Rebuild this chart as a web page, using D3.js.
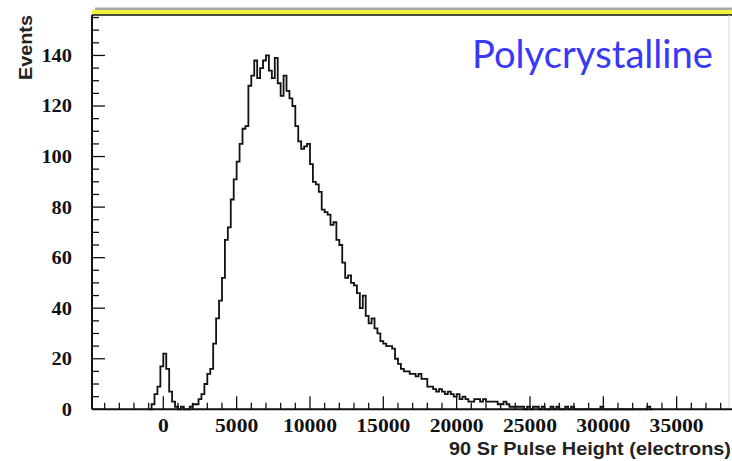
<!DOCTYPE html>
<html>
<head>
<meta charset="utf-8">
<script src="https://cdn.jsdelivr.net/npm/d3@7"></script>
<style>
  html, body { margin: 0; padding: 0; background: #fff; }
  svg { display: block; }
</style>
</head>
<body>
<svg id="chart" width="732" height="461"></svg>
<script>
// ---- data ----
const binLow = -1000;
const binWidth = 200;
const counts = [
  0, 2, 6, 9, 17, 22, 16, 7, 3, 1,            // -1000 .. 800
  0, 1, 0, 0, 1, 2, 2, 4, 6, 10,              // 1000 .. 2800
  14, 16, 26, 36, 43, 52, 67, 72, 83, 91,     // 3000 .. 4800
  98, 105, 111, 112, 128, 132, 138, 131, 135, 138, // 5000 .. 6800
  140, 134, 131, 139, 129, 124, 132, 126, 123, 120, // 7000 .. 8800
  112, 106, 103, 104, 105, 97, 90, 89, 86, 79,  // 9000 .. 10800
  78, 77, 73, 74, 67, 65, 58, 52, 53, 50,       // 11000 .. 12800
  49, 46, 40, 45, 37, 34, 36, 32, 30, 27,       // 13000 .. 14800
  26, 25, 25, 24, 20, 18, 16, 15, 15, 14,       // 15000 .. 16800
  14, 13, 14, 12, 12, 9, 9, 8, 7, 8,            // 17000 .. 18800
  7, 6, 7, 6, 5, 6, 4, 5, 4, 3,                 // 19000 .. 20800
  3, 4, 4, 3, 4, 3, 3, 3, 3, 2,                 // 21000 .. 22800
  2, 3, 2, 1, 1, 1, 1, 1, 0, 1,                 // 23000 .. 24800
  0, 1, 1, 0, 1, 0, 0, 1, 0, 1,                 // 25000 .. 26800
  0, 0, 1, 0, 1, 0, 0, 0, 0, 0,                 // 27000 .. 28800
  0, 0, 0, 0, 1, 0, 0, 0, 0, 0,                 // 29000 .. 30800
  0, 0, 0, 0, 0, 0, 0, 0, 0, 0,                 // 31000 .. 32800
  1, 0                                          // 33000 .. 33200
];
const xMajorTicks = [0, 5000, 10000, 15000, 20000, 25000, 30000, 35000];
const yMajorTicks = [0, 20, 40, 60, 80, 100, 120, 140];
const xDomain = [-4862, 38570];
const yDomain = [0, 156];
const titleText = "Polycrystalline";
const xTitle = "90 Sr Pulse Height (electrons)";
const yTitle = "Events";

// ---- layout ----
const L = 92, R = 729, T = 15, B = 409.3;
const svg = d3.select("#chart");
const x = d3.scaleLinear().domain(xDomain).range([L, R]);
const y = d3.scaleLinear().domain(yDomain).range([B, T]);

// top decorative bar
svg.append("rect").attr("x", 95).attr("y", 7.5).attr("width", 640).attr("height", 2.5).attr("fill", "#a8a8a8");
svg.append("rect").attr("x", L).attr("y", 10).attr("width", 640).attr("height", 4.5).attr("fill", "#f2f23c");
svg.append("line").attr("x1", L).attr("x2", 732).attr("y1", T).attr("y2", T)
  .attr("stroke", "#111").attr("stroke-width", 1.6);
// right frame edge
svg.append("line").attr("x1", R).attr("x2", R).attr("y1", T).attr("y2", B)
  .attr("stroke", "#d8d8d8").attr("stroke-width", 1);

// histogram
const pts = counts.map((c, i) => [binLow + i * binWidth, c]);
pts.push([binLow + counts.length * binWidth, counts[counts.length - 1]]);
const line = d3.line().x(d => x(d[0])).y(d => y(d[1])).curve(d3.curveStepAfter);
svg.append("path").attr("d", line(pts)).attr("fill", "none")
  .attr("stroke", "#111").attr("stroke-width", 1.8);

// axes
const g = svg.append("g");
g.append("line").attr("x1", L).attr("x2", 732).attr("y1", B).attr("y2", B)
  .attr("stroke", "#111").attr("stroke-width", 2);
g.append("line").attr("x1", L).attr("x2", L).attr("y1", T).attr("y2", B)
  .attr("stroke", "#111").attr("stroke-width", 2);

// x ticks
const xMinor = d3.range(-4000, 38600, 1000).filter(v => v % 5000 !== 0);
xMinor.forEach(v => {
  g.append("line").attr("x1", x(v)).attr("x2", x(v)).attr("y1", B).attr("y2", B - 6.5)
    .attr("stroke", "#111").attr("stroke-width", 1.3);
});
xMajorTicks.forEach(v => {
  g.append("line").attr("x1", x(v)).attr("x2", x(v)).attr("y1", B).attr("y2", B - 13)
    .attr("stroke", "#111").attr("stroke-width", 1.3);
  const s = String(v);
  g.append("text").attr("x", x(v)).attr("y", 432).attr("text-anchor", "middle")
    .attr("font-family", "'Liberation Serif', 'DejaVu Serif', serif").attr("font-weight", "bold")
    .attr("font-size", 19).attr("fill", "#111")
    .attr("textLength", s.length * 10.8).attr("lengthAdjust", "spacingAndGlyphs")
    .text(s);
});

// y ticks
const yMinor = d3.range(5, 156, 5).filter(v => v % 20 !== 0);
yMinor.forEach(v => {
  g.append("line").attr("x1", L).attr("x2", L + 7).attr("y1", y(v)).attr("y2", y(v))
    .attr("stroke", "#111").attr("stroke-width", 1.3);
});
yMajorTicks.forEach(v => {
  g.append("line").attr("x1", L).attr("x2", L + 13).attr("y1", y(v)).attr("y2", y(v))
    .attr("stroke", "#111").attr("stroke-width", 1.3);
  const s = String(v);
  g.append("text").attr("x", 72).attr("y", y(v) + 6.5).attr("text-anchor", "end")
    .attr("font-family", "'Liberation Serif', 'DejaVu Serif', serif").attr("font-weight", "bold")
    .attr("font-size", 19).attr("fill", "#111")
    .attr("textLength", s.length * 10.2).attr("lengthAdjust", "spacingAndGlyphs")
    .text(s);
});

// axis titles
svg.append("text").attr("x", 731).attr("y", 455).attr("text-anchor", "end")
  .attr("font-family", "'Liberation Sans', Arial, sans-serif").attr("font-weight", "bold")
  .attr("font-size", 17.5).attr("fill", "#222")
  .attr("textLength", 282).attr("lengthAdjust", "spacingAndGlyphs")
  .text(xTitle);

svg.append("text").attr("transform", "translate(32,15) rotate(-90)").attr("text-anchor", "end")
  .attr("font-family", "'Liberation Sans', Arial, sans-serif").attr("font-weight", "bold")
  .attr("font-size", 18).attr("fill", "#222")
  .attr("textLength", 65).attr("lengthAdjust", "spacingAndGlyphs")
  .text(yTitle);

// title
svg.append("text").attr("x", 472).attr("y", 68)
  .attr("font-family", "Lato, 'Open Sans', sans-serif")
  .attr("font-size", 39).attr("fill", "#3838f5")
  .attr("textLength", 241).attr("lengthAdjust", "spacingAndGlyphs")
  .text(titleText);
</script>
</body>
</html>
